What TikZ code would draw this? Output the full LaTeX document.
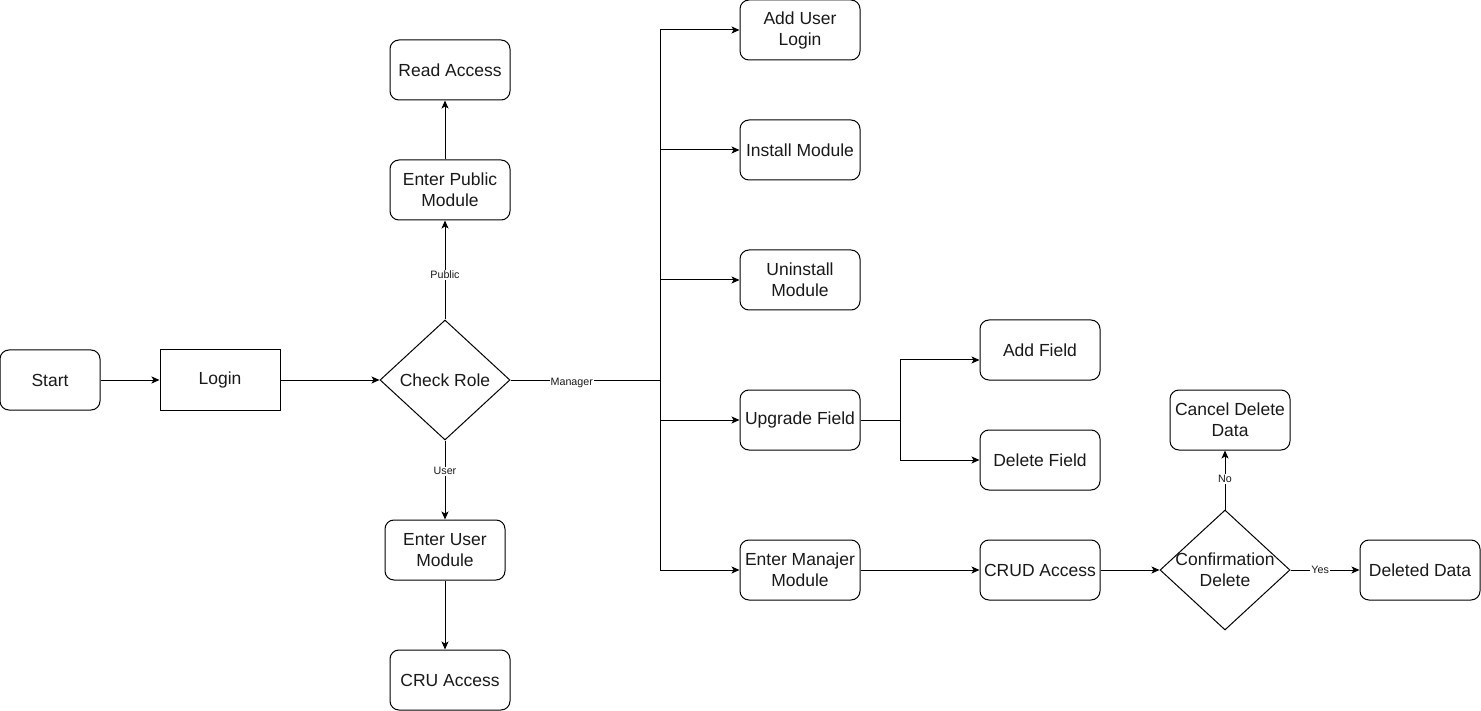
\documentclass[tikz,border=0pt]{standalone}
\usepackage{fontspec}
\setmainfont{Liberation Sans}
\usetikzlibrary{shapes.geometric,arrows.meta,calc}
\tikzset{
  base/.style={draw=black, line width=1pt, inner sep=0pt, align=center,
    font=\fontsize{17.5}{21}\selectfont, text=black!90},
  rbox/.style={base, rectangle, rounded corners=9pt, minimum width=120pt, minimum height=60pt},
  sbox/.style={base, rectangle, minimum width=120pt, minimum height=60pt},
  dia/.style={draw=black, line width=1pt, diamond, inner sep=0pt, minimum width=130pt, minimum height=120pt},
  dtxt/.style={inner sep=0pt, align=center, font=\fontsize{17.5}{21}\selectfont, text=black!90},
  arr/.style={line width=1pt, -{Stealth[length=8pt,width=7pt,inset=2pt]}},
  ln/.style={line width=1pt},
  lbl/.style={fill=white, inner sep=1pt, font=\fontsize{10.7}{12}\selectfont, text=black!90}
}
\begin{document}
\begin{tikzpicture}[x=1pt,y=-1pt]
\useasboundingbox (0,0) rectangle (1481,711);
% nodes
\node[rbox, minimum width=100pt] (start) at (50,380) {Start};
\node[sbox] (login) at (220,380) {Login};
\node[dia] (chk) at (445,380) {};
\node[dtxt] (chkt) at (chk) {Check Role};
\node[rbox] (pub) at (450,190) {Enter Public\\Module};
\node[rbox] (read) at (450,70) {Read Access};
\node[rbox] (usr) at (445,550) {Enter User\\Module};
\node[rbox] (cru) at (450,680) {CRU Access};
\node[rbox] (addu) at (800,30) {Add User\\Login};
\node[rbox] (inst) at (800,150) {Install Module};
\node[rbox] (unin) at (800,280) {Uninstall\\Module};
\node[rbox] (upg) at (800,420) {Upgrade Field};
\node[rbox] (emm) at (800,570) {Enter Manajer\\Module};
\node[rbox] (addf) at (1040,350) {Add Field};
\node[rbox] (delf) at (1040,460) {Delete Field};
\node[rbox] (crud) at (1040,570) {CRUD Access};
\node[dia] (conf) at (1225,570) {};
\node[dtxt] (conft) at (conf) {Confirmation\\Delete};
\node[rbox] (cancel) at (1230,420) {Cancel Delete\\Data};
\node[rbox] (deld) at (1420,570) {Deleted Data};
% coordinates
\coordinate (trunk) at (660,380);
\coordinate (br) at (900,420);
% connectors
\draw[arr] (start.east) -- (login.west);
\draw[arr] (login.east) -- (chk.west);
\draw[arr] (chk.north) -- node[lbl, pos=0.45] {Public} (chk.north |- pub.south);
\draw[arr] (chk.north |- pub.north) -- (chk.north |- read.south);
\draw[arr] (chk.south) -- node[lbl, pos=0.39] {User} (chk.south |- usr.north);
\draw[arr] (chk.south |- usr.south) -- (chk.south |- cru.north);
\draw[ln] (chk.east) -- node[lbl, pos=0.41, yshift=-3pt] {Manager} (trunk);
\draw[arr] (trunk) |- (addu.west);
\draw[arr] (trunk) |- (inst.west);
\draw[arr] (trunk) |- (unin.west);
\draw[arr] (trunk) |- (upg.west);
\draw[arr] (trunk) |- (emm.west);
\draw[ln] (upg.east) -- (br);
\draw[arr] (br) |- ($(addf.west)+(0,10)$);
\draw[arr] (br) |- (delf.west);
\draw[arr] (emm.east) -- (crud.west);
\draw[arr] (crud.east) -- (conf.west);
\draw[arr] (conf.north) -- node[lbl, pos=0.52] {No} (conf.north |- cancel.south);
\draw[arr] (conf.east) -- node[lbl, pos=0.43] {Yes} (deld.west);
\end{tikzpicture}
\end{document}
